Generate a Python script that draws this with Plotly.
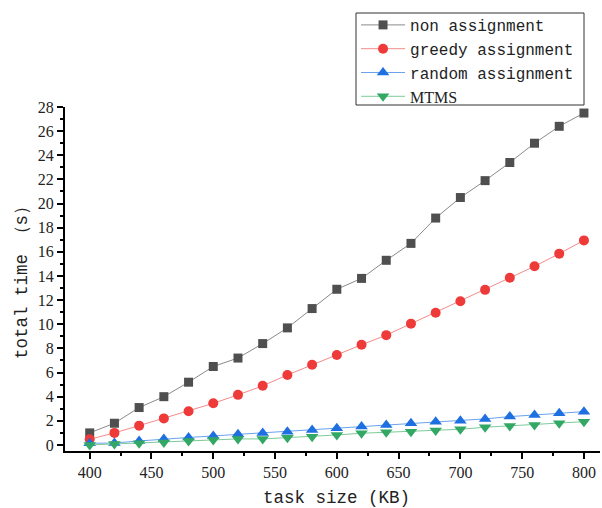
import plotly.graph_objects as go

task_size = [400, 420, 440, 460, 480, 500, 520, 540, 560, 580, 600,
             620, 640, 660, 680, 700, 720, 740, 760, 780, 800]

non_assignment = [1.0, 1.8, 3.1, 4.0, 5.2, 6.5, 7.2, 8.4, 9.7, 11.3, 12.9,
                  13.8, 15.3, 16.7, 18.8, 20.5, 21.9, 23.4, 25.0, 26.4, 27.5]
greedy_assignment = [0.47, 1.0, 1.6, 2.2, 2.8, 3.45, 4.15, 4.9, 5.8, 6.65, 7.45,
                     8.3, 9.1, 10.05, 10.95, 11.9, 12.85, 13.85, 14.8, 15.85, 16.95]
random_assignment = [0.14, 0.16, 0.33, 0.5, 0.62, 0.75, 0.88, 1.0, 1.1, 1.25, 1.38,
                     1.52, 1.66, 1.8, 1.93, 2.0, 2.16, 2.35, 2.49, 2.63, 2.76]
mtms = [0.0, 0.08, 0.14, 0.2, 0.33, 0.41, 0.5, 0.5, 0.6, 0.69, 0.83,
        0.97, 1.05, 1.1, 1.2, 1.3, 1.47, 1.58, 1.66, 1.8, 1.93]

x_title = "task size (KB)"
y_title = "total time （s）"

series = [
    ("non assignment", non_assignment, "square", "#4f4f4f", "#8a8a8a", 9),
    ("greedy assignment", greedy_assignment, "circle", "#ef3a3a", "#f58a8a", 10),
    ("random assignment", random_assignment, "triangle-up", "#1e6fe0", "#6aa2ee", 11),
    ("MTMS", mtms, "triangle-down", "#33a865", "#7ccb98", 11),
]

fig = go.Figure()
for name, vals, sym, mcol, lcol, size in series:
    label = name
    if name == "MTMS":
        label = '<span style="font-family:Liberation Serif">MTMS</span>'
    fig.add_trace(go.Scatter(
        x=task_size, y=vals, mode="lines+markers", name=label,
        line=dict(color=lcol, width=1),
        marker=dict(symbol=sym, color=mcol, size=size, line=dict(width=0)),
    ))

axis_common = dict(
    showline=True, linecolor="black", linewidth=2,
    ticks="outside", tickcolor="black", tickwidth=2, ticklen=6,
    showgrid=False, zeroline=False, mirror=False, automargin=False,
    tickfont=dict(family="Liberation Serif", size=16, color="#222"),
)

title_font = dict(family="Liberation Mono", size=17.5, color="#222")

fig.update_layout(
    width=602, height=508,
    margin=dict(l=65, r=2, t=107, b=57),
    plot_bgcolor="white", paper_bgcolor="white",
    xaxis=dict(
        range=[380, 813], tickmode="linear", tick0=400, dtick=50,
        minor=dict(ticks="outside", ticklen=3, tickwidth=1.5, tickcolor="black", dtick=25, tick0=400, showgrid=False),
        **axis_common,
    ),
    yaxis=dict(
        range=[-0.5, 28], tickmode="linear", tick0=0, dtick=2,
        minor=dict(ticks="outside", ticklen=3, tickwidth=1.5, tickcolor="black", dtick=1, tick0=0, showgrid=False),
        **axis_common,
    ),
    legend=dict(
        x=0.544, y=1.2878, xanchor="left", yanchor="top",
        borderwidth=0, bgcolor="rgba(0,0,0,0)",
        font=dict(family="Liberation Mono", size=16, color="#222"),
        tracegroupgap=0, itemwidth=44,
    ),
    showlegend=True,
    shapes=[dict(
        type="rect", xref="paper", yref="paper",
        x0=(356 - 65) / 535, x1=(584 - 65) / 535,
        y0=(451 - 105) / 344, y1=(451 - 13) / 344,
        line=dict(color="#333", width=1), fillcolor="white", layer="above",
    )],
    annotations=[
        dict(text=x_title, xref="paper", yref="paper",
             x=(336 - 65) / 535, y=(451 - 498) / 344,
             xanchor="center", yanchor="middle", showarrow=False, font=title_font),
        dict(text=y_title, xref="paper", yref="paper",
             x=(22 - 65) / 535, y=(451 - 278) / 344, textangle=-90,
             xanchor="center", yanchor="middle", showarrow=False, font=title_font),
    ],
)

fig.write_html("out.html", config={"displayModeBar": False},
               post_script="document.body.style.margin='0px';")
